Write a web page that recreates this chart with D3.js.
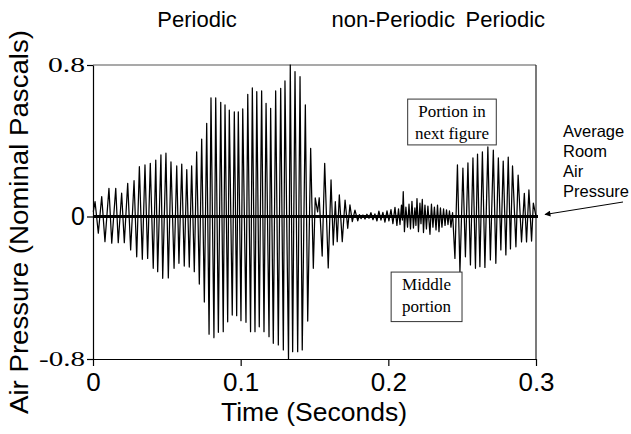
<!DOCTYPE html>
<html>
<head>
<meta charset="utf-8">
<script src="https://cdn.jsdelivr.net/npm/d3@7"></script>
<style>
  html, body { margin: 0; padding: 0; background: #fff; }
  svg { display: block; }
</style>
</head>
<body>
<svg id="chart" width="631" height="434"></svg>
<script>
// Speech pressure waveform: [time in s, pressure in nominal Pa] at each turning point.
const voicedOnset = [
  [0.0002, 0.025],
  [0.0014, 0.078], [0.0036, -0.094],
  [0.0059, 0.105], [0.0081, -0.141],
  [0.0108, 0.149], [0.0127, -0.150],
  [0.0154, 0.149], [0.0171, -0.147],
  [0.0194, 0.123], [0.0212, -0.147],
  [0.0235, 0.175], [0.0255, -0.188],
  [0.0278, 0.189], [0.0296, -0.226],
  [0.0314, 0.263], [0.0334, -0.240],
  [0.0352, 0.272], [0.0370, -0.235],
  [0.0388, 0.281], [0.0408, -0.291],
  [0.0425, 0.298], [0.0438, -0.310],
  [0.0460, 0.325], [0.0472, -0.347],
  [0.0494, 0.334], [0.0510, -0.345],
  [0.0528, 0.288], [0.0549, -0.291],
  [0.0567, 0.267], [0.0582, -0.263],
  [0.0601, 0.277], [0.0618, -0.278],
  [0.0635, 0.248], [0.0652, -0.284],
  [0.0668, 0.267], [0.0686, -0.310],
  [0.0702, 0.341], [0.0720, -0.379],
  [0.0736, 0.409], [0.0754, -0.480],
  [0.0770, 0.492], [0.0786, -0.661],
  [0.0799, 0.627], [0.0819, -0.680],
  [0.0831, 0.627], [0.0849, -0.650],
  [0.0865, 0.603], [0.0882, -0.647],
  [0.0894, 0.589], [0.0912, -0.591],
  [0.0923, 0.562], [0.0943, -0.553],
  [0.0957, 0.553], [0.0973, -0.557],
  [0.0984, 0.553], [0.1002, -0.585],
  [0.1014, 0.568], [0.1036, -0.594],
  [0.1048, 0.645], [0.1067, -0.647],
  [0.1079, 0.679], [0.1097, -0.647],
  [0.1109, 0.659], [0.1126, -0.619],
  [0.1142, 0.663], [0.1158, -0.647],
  [0.1172, 0.598], [0.1192, -0.675],
  [0.1203, 0.571], [0.1221, -0.712],
  [0.1237, 0.663], [0.1255, -0.721],
  [0.1271, 0.677], [0.1289, -0.749],
  [0.1300, 0.716], [0.1324, -0.800],
  [0.1336, 0.800], [0.1352, -0.759],
  [0.1368, 0.765], [0.1386, -0.759],
  [0.1402, 0.738], [0.1417, -0.749],
  [0.1438, 0.589], [0.1454, -0.587],
  [0.1474, 0.360], [0.1492, -0.291],
  [0.1505, 0.098], [0.1521, 0.024],
  [0.1532, 0.099], [0.1552, -0.222],
  [0.1569, 0.281], [0.1593, -0.289],
  [0.1612, 0.193], [0.1627, -0.160],
  [0.1641, 0.078], [0.1654, -0.141],
  [0.1668, 0.114], [0.1688, -0.141],
  [0.1707, 0.087], [0.1725, -0.066],
  [0.1740, 0.061], [0.1756, -0.029],
  [0.1774, 0.034], [0.1793, -0.024]
];

// Turbulent (fricative) stretch between the two voiced parts.
const noiseBurst = [
  [0.1804, 0.010], [0.1815, -0.012], [0.1828, 0.008], [0.1842, -0.014],
  [0.1855, 0.012], [0.1869, -0.010], [0.1882, 0.020], [0.1896, -0.018],
  [0.1909, 0.014], [0.1923, -0.025], [0.1936, 0.028], [0.1950, -0.020],
  [0.1963, 0.022], [0.1977, -0.032], [0.1991, 0.030], [0.2004, -0.024],
  [0.2018, 0.036], [0.2031, -0.040], [0.2045, 0.048], [0.2058, -0.050],
  [0.2069, 0.040], [0.2079, -0.045], [0.2089, 0.060], [0.2095, -0.020],
  [0.2101, 0.131], [0.2109, -0.085], [0.2119, 0.050], [0.2130, -0.060],
  [0.2140, 0.065], [0.2150, -0.070], [0.2160, 0.080], [0.2170, -0.065],
  [0.2180, 0.045], [0.2187, -0.050], [0.2194, 0.095], [0.2204, -0.085],
  [0.2214, 0.070], [0.2221, -0.040], [0.2230, 0.090], [0.2238, -0.090],
  [0.2248, 0.060], [0.2258, -0.070], [0.2268, 0.055], [0.2282, -0.100],
  [0.2292, 0.065], [0.2302, -0.060], [0.2312, 0.050], [0.2323, -0.075],
  [0.2333, 0.060], [0.2343, -0.085], [0.2353, 0.045], [0.2363, -0.060],
  [0.2374, 0.040], [0.2384, -0.050], [0.2394, 0.035], [0.2404, -0.045],
  [0.2414, 0.030], [0.2424, -0.060], [0.2435, 0.020]
];

const voicedTail = [
  [0.2451, -0.235], [0.2468, 0.272],
  [0.2485, -0.310], [0.2505, 0.256],
  [0.2522, -0.226], [0.2539, 0.283],
  [0.2556, -0.272], [0.2573, 0.309],
  [0.2590, -0.291], [0.2604, 0.330],
  [0.2620, -0.282], [0.2637, 0.341],
  [0.2654, -0.286], [0.2674, 0.367],
  [0.2691, -0.244], [0.2711, 0.351],
  [0.2728, -0.263], [0.2745, 0.309],
  [0.2762, -0.188], [0.2778, 0.293],
  [0.2796, -0.216], [0.2812, 0.314],
  [0.2827, -0.182], [0.2841, 0.267],
  [0.2864, -0.170], [0.2879, 0.219],
  [0.2902, -0.143], [0.2921, 0.122],
  [0.2936, -0.143], [0.2952, 0.140],
  [0.2970, -0.138], [0.2982, 0.071],
  [0.3000, 0.000]
];

const xTickValues = [0, 0.1, 0.2, 0.3];
const yTickValues = [-0.8, 0, 0.8];
const phaseLabels = ["Periodic", "non-Periodic", "Periodic"];
const phaseCentres = [0.0705, 0.2033, 0.2792];   // seconds
const xTitle = "Time (Seconds)";
const yTitle = "Air Pressure (Nominal Pascals)";
const baselineNote = ["Average", "Room", "Air", "Pressure"];
const boxNotes = [
  { lines: ["Portion in", "next figure"], t0: 0.2131, t1: 0.2731, p0: 0.620, p1: 0.378 },
  { lines: ["Middle", "portion"],          t0: 0.2019, t1: 0.2499, p0: -0.312, p1: -0.590 }
];

const SANS = "'Liberation Sans', Arial, Helvetica, sans-serif";
const SERIF = "'Liberation Serif', 'Times New Roman', serif";

const svg = d3.select("#chart");
const plotLeft = 93, plotRight = 536, plotTop = 65, plotBottom = 359;

const x = d3.scaleLinear().domain([0, 0.3]).range([plotLeft, plotRight]);
const y = d3.scaleLinear().domain([-0.8, 0, 0.8]).range([plotBottom, 216.5, plotTop]);

// Frame: top and right edges
svg.append("line").attr("x1", plotLeft).attr("x2", plotRight).attr("y1", plotTop).attr("y2", plotTop)
  .attr("stroke", "#555").attr("stroke-width", 1.2);
svg.append("line").attr("x1", plotRight).attr("x2", plotRight).attr("y1", plotTop).attr("y2", plotBottom)
  .attr("stroke", "#222").attr("stroke-width", 1.2);

// Waveform
const wave = voicedOnset.concat(noiseBurst, voicedTail);
const line = d3.line().x(d => x(d[0])).y(d => y(d[1]));
svg.append("path").datum(wave)
  .attr("d", line)
  .attr("fill", "none")
  .attr("stroke", "#000")
  .attr("stroke-width", 1.25)
  .attr("stroke-linejoin", "round");

// Average room pressure baseline
svg.append("line").attr("x1", x(0)).attr("x2", x(0.3) + 2)
  .attr("y1", y(0)).attr("y2", y(0))
  .attr("stroke", "#000").attr("stroke-width", 3);

// X axis
const xAxis = svg.append("g").attr("transform", `translate(0,${plotBottom})`)
  .call(d3.axisBottom(x).tickValues(xTickValues).tickSize(7).tickSizeOuter(0)
    .tickFormat(d => d === 0 ? "0" : d3.format(".1f")(d)));
xAxis.select(".domain").attr("stroke", "#000").attr("stroke-width", 1.2);
xAxis.selectAll(".tick line").attr("stroke", "#000").attr("stroke-width", 1.2);
xAxis.selectAll(".tick text")
  .attr("font-family", SANS).attr("font-size", 26).attr("fill", "#000")
  .attr("y", 32).attr("dy", 0);

// Y axis
const yAxis = svg.append("g").attr("transform", `translate(${plotLeft},0)`)
  .call(d3.axisLeft(y).tickValues(yTickValues).tickSize(6).tickSizeOuter(0)
    .tickFormat(d => d === 0 ? "0" : d3.format(".1f")(d)));
yAxis.select(".domain").attr("stroke", "#000").attr("stroke-width", 1.2);
yAxis.selectAll(".tick line").attr("stroke", "#000").attr("stroke-width", 1.2);
yAxis.selectAll(".tick text")
  .attr("fill", "#000")
  .attr("x", -8)
  .attr("font-family", d => d === 0 ? SANS : SERIF)
  .attr("font-size", d => d === 0 ? 25 : 21)
  .text(d => d === 0 ? "0" : (d < 0 ? "-" : "") + d3.format(".1f")(Math.abs(d)))
  .each(function (d) {
    if (d !== 0) {
      d3.select(this).attr("textLength", d < 0 ? 46 : 37).attr("lengthAdjust", "spacingAndGlyphs");
    }
  });

// Axis titles
svg.append("text").attr("x", 314).attr("y", 421)
  .attr("text-anchor", "middle").attr("font-family", SANS).attr("font-size", 26.5)
  .text(xTitle);
svg.append("text")
  .attr("transform", `translate(28,${222}) rotate(-90)`)
  .attr("text-anchor", "middle").attr("font-family", SANS).attr("font-size", 26.5)
  .attr("textLength", 384).attr("lengthAdjust", "spacingAndGlyphs")
  .text(yTitle);

// Phase labels above the plot
svg.selectAll("text.phase").data(phaseLabels).join("text")
  .attr("class", "phase")
  .attr("x", (d, i) => x(phaseCentres[i]))
  .attr("y", 27)
  .attr("text-anchor", "middle")
  .attr("font-family", SANS).attr("font-size", 22)
  .text(d => d);

// Boxed notes
boxNotes.forEach(b => {
  const bx = x(b.t0), bw = x(b.t1) - x(b.t0);
  const by = y(b.p0), bh = y(b.p1) - y(b.p0);
  svg.append("rect").attr("x", bx).attr("y", by).attr("width", bw).attr("height", bh)
    .attr("fill", "#fff").attr("stroke", "#333").attr("stroke-width", 1);
  b.lines.forEach((s, i) => {
    svg.append("text").attr("x", bx + bw / 2).attr("y", by + 18 + i * 22)
      .attr("text-anchor", "middle").attr("font-family", SERIF).attr("font-size", 17)
      .text(s);
  });
});

// Baseline annotation with arrow
svg.append("defs").append("marker")
  .attr("id", "head").attr("viewBox", "0 0 10 10").attr("refX", 9).attr("refY", 5)
  .attr("markerWidth", 8).attr("markerHeight", 6).attr("orient", "auto")
  .append("path").attr("d", "M0,0 L10,5 L0,10 z").attr("fill", "#000");
svg.selectAll("text.note").data(baselineNote).join("text")
  .attr("class", "note")
  .attr("x", 563).attr("y", (d, i) => 137 + i * 20)
  .attr("font-family", SANS).attr("font-size", 16.5)
  .text(d => d);
svg.append("line").attr("x1", 623).attr("y1", 202).attr("x2", 545).attr("y2", 214.5)
  .attr("stroke", "#000").attr("stroke-width", 1)
  .attr("marker-end", "url(#head)");
</script>
</body>
</html>
